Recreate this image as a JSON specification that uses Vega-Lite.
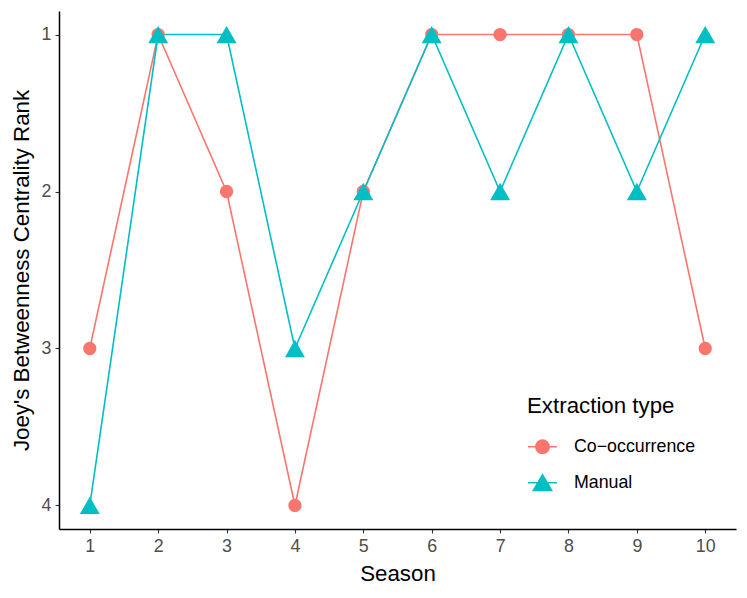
{
  "$schema": "https://vega.github.io/schema/vega-lite/v6.json",
  "width": 677,
  "height": 518,
  "autosize": {"type": "none"},
  "padding": {"left": 59, "top": 11, "right": 11, "bottom": 69},
  "background": "white",
  "data": {
    "values": [
      {"Season": 1, "Rank": 3, "Type": "Co\u2212occurrence"},
      {"Season": 2, "Rank": 1, "Type": "Co\u2212occurrence"},
      {"Season": 3, "Rank": 2, "Type": "Co\u2212occurrence"},
      {"Season": 4, "Rank": 4, "Type": "Co\u2212occurrence"},
      {"Season": 5, "Rank": 2, "Type": "Co\u2212occurrence"},
      {"Season": 6, "Rank": 1, "Type": "Co\u2212occurrence"},
      {"Season": 7, "Rank": 1, "Type": "Co\u2212occurrence"},
      {"Season": 8, "Rank": 1, "Type": "Co\u2212occurrence"},
      {"Season": 9, "Rank": 1, "Type": "Co\u2212occurrence"},
      {"Season": 10, "Rank": 3, "Type": "Co\u2212occurrence"},
      {"Season": 1, "Rank": 4, "Type": "Manual"},
      {"Season": 2, "Rank": 1, "Type": "Manual"},
      {"Season": 3, "Rank": 1, "Type": "Manual"},
      {"Season": 4, "Rank": 3, "Type": "Manual"},
      {"Season": 5, "Rank": 2, "Type": "Manual"},
      {"Season": 6, "Rank": 1, "Type": "Manual"},
      {"Season": 7, "Rank": 2, "Type": "Manual"},
      {"Season": 8, "Rank": 1, "Type": "Manual"},
      {"Season": 9, "Rank": 2, "Type": "Manual"},
      {"Season": 10, "Rank": 1, "Type": "Manual"}
    ]
  },
  "encoding": {
    "x": {
      "field": "Season",
      "type": "quantitative",
      "title": "Season",
      "scale": {"domain": [0.55, 10.45], "nice": false, "zero": false},
      "axis": {"values": [1, 2, 3, 4, 5, 6, 7, 8, 9, 10], "format": "d"}
    },
    "y": {
      "field": "Rank",
      "type": "quantitative",
      "title": "Joey's Betweenness Centrality Rank",
      "scale": {"domain": [4.15, 0.85], "nice": false, "zero": false},
      "axis": {"values": [1, 2, 3, 4], "format": "d"}
    },
    "color": {
      "field": "Type",
      "type": "nominal",
      "scale": {"range": ["#F8766D", "#00BFC4"]},
      "legend": {
        "orient": "none",
        "legendX": 468,
        "legendY": 384,
        "title": "Extraction type",
        "titleFontSize": 22.3,
        "titleFontWeight": "normal",
        "titleColor": "black",
        "titlePadding": 14,
        "labelFontSize": 17.8,
        "labelColor": "black",
        "labelOffset": 16,
        "symbolSize": 841,
        "symbolStrokeWidth": 1.6,
        "symbolOpacity": 1,
        "rowPadding": 10,
        "encode": {
          "symbols": {
            "update": {
              "shape": {"signal": "datum.value == 'Manual' ? 'M-1,0H1M0,-0.55L0.63,0.53L-0.63,0.53Z' : 'M-1,0H1M0.46,0A0.46,0.46,0,1,1,-0.46,0A0.46,0.46,0,1,1,0.46,0Z'"},
              "fillOpacity": {"value": 1},
              "strokeOpacity": {"value": 1}
            }
          }
        }
      }
    }
  },
  "layer": [
    {
      "mark": {"type": "line", "strokeWidth": 1.6}
    },
    {
      "mark": {"type": "point", "filled": true, "opacity": 1},
      "encoding": {
        "shape": {
          "field": "Type",
          "type": "nominal",
          "scale": {"range": ["circle", "triangle-up"]},
          "legend": null
        },
        "size": {
          "field": "Type",
          "type": "nominal",
          "scale": {"range": [177, 400]},
          "legend": null
        }
      }
    }
  ],
  "config": {
    "view": {"stroke": null},
    "font": "Liberation Sans",
    "legend": {"labelFont": "Liberation Sans", "titleFont": "Liberation Sans"},
    "axis": {
      "grid": false,
      "domainColor": "black",
      "domainWidth": 1.5,
      "tickColor": "#333333",
      "tickSize": 4,
      "tickWidth": 1.1,
      "labelColor": "#4D4D4D",
      "labelFont": "Liberation Sans",
      "labelFontSize": 17.8,
      "labelPadding": 4,
      "titleFont": "Liberation Sans",
      "titleFontSize": 22.3,
      "titleFontWeight": "normal",
      "titleColor": "black"
    },
    "axisX": {"titlePadding": 8},
    "axisY": {"titlePadding": 8}
  }
}
